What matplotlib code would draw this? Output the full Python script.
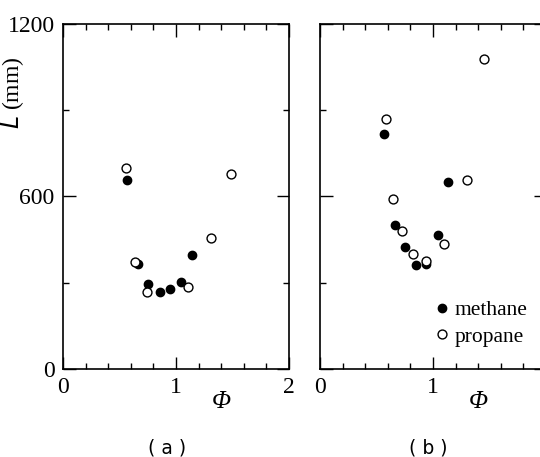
import matplotlib
matplotlib.use('Agg')
import matplotlib.pyplot as plt
from matplotlib.ticker import MultipleLocator
from matplotlib.lines import Line2D

plt.rcParams['font.family'] = ['Liberation Serif', 'DejaVu Serif']

# panel (a)
a_methane_phi = [0.57, 0.66, 0.75, 0.86, 0.95, 1.04, 1.14]
a_methane_L = [657, 365, 296, 268, 278, 302, 396]
a_propane_phi = [0.56, 0.64, 0.74, 1.11, 1.31, 1.49]
a_propane_L = [699, 372, 268, 285, 456, 678]

# panel (b)
b_methane_phi = [0.57, 0.66, 0.75, 0.85, 0.94, 1.04, 1.13]
b_methane_L = [817, 501, 424, 362, 365, 466, 650]
b_propane_phi = [0.58, 0.65, 0.73, 0.82, 0.94, 1.10, 1.30, 1.45]
b_propane_L = [870, 591, 480, 400, 376, 435, 657, 1078]

panel_labels = ['( a )', '( b )']

fig = plt.figure(figsize=(5.4, 4.57), dpi=100)
ax_a = fig.add_axes([0.1167, 0.1926, 0.4185, 0.755])
ax_b = fig.add_axes([0.5926, 0.1926, 0.4185, 0.755])

for ax, mx, my, px, py in [(ax_a, a_methane_phi, a_methane_L, a_propane_phi, a_propane_L),
                            (ax_b, b_methane_phi, b_methane_L, b_propane_phi, b_propane_L)]:
    ax.plot(mx, my, 'o', color='black', ms=6, ls='none', clip_on=False)
    ax.plot(px, py, 'o', mfc='white', mec='black', mew=1.0, ms=6.4, ls='none', clip_on=False)
    ax.set_xlim(0, 2)
    ax.set_ylim(0, 1200)
    ax.xaxis.set_major_locator(MultipleLocator(1))
    ax.xaxis.set_minor_locator(MultipleLocator(0.2))
    ax.yaxis.set_major_locator(MultipleLocator(600))
    ax.yaxis.set_minor_locator(MultipleLocator(300))
    ax.tick_params(which='both', direction='in', top=True, right=True, width=1.0, labelsize=17, pad=6)
    ax.tick_params(which='major', length=9)
    ax.tick_params(which='minor', length=4.5)
    for s in ax.spines.values():
        s.set_linewidth(1.2)
    ax.text(0.70, -0.095, 'Φ', transform=ax.transAxes, ha='center', va='center',
            fontsize=18, style='italic')

ax_b.set_yticklabels([])
ax_a.set_ylabel('$L$ (mm)', fontsize=17)
ax_a.yaxis.set_label_coords(-0.165, 0.80)

fig.text(167 / 540, 1 - 448 / 457, panel_labels[0], ha='center', va='center', fontsize=13.5,
         family=['DejaVu Sans'])
fig.text(428 / 540, 1 - 448 / 457, panel_labels[1], ha='center', va='center', fontsize=13.5,
         family=['DejaVu Sans'])

handles = [Line2D([], [], marker='o', color='black', ls='none', ms=6),
           Line2D([], [], marker='o', mfc='white', mec='black', ls='none', ms=6.4)]
ax_b.legend(handles, ['methane', 'propane'], loc='upper left', bbox_to_anchor=(0.49, 0.20),
            frameon=False, fontsize=15.5, handletextpad=0.1, handlelength=1.0,
            labelspacing=0.3, borderpad=0, borderaxespad=0)

fig.savefig('out.png', dpi=100)
